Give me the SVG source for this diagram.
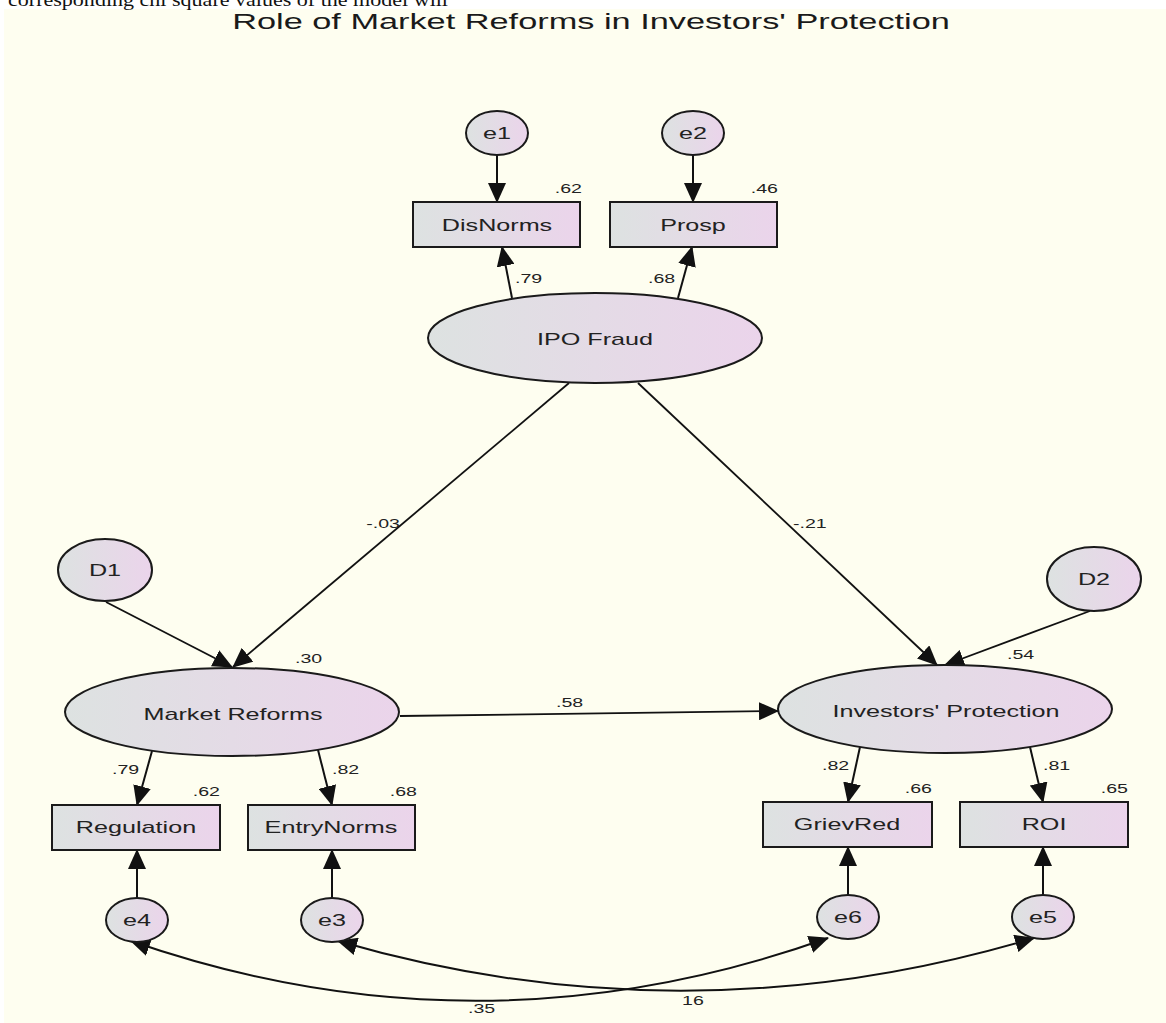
<svg xmlns="http://www.w3.org/2000/svg" width="1166" height="1023" viewBox="0 0 1166 1023">
<defs>
<linearGradient id="g" x1="0" y1="0" x2="1" y2="0">
<stop offset="0" stop-color="#dde2e1"/>
<stop offset="1" stop-color="#ebd4eb"/>
</linearGradient>
<marker id="ah" markerUnits="userSpaceOnUse" viewBox="0 0 20 18" refX="19" refY="9" markerWidth="20" markerHeight="18" orient="auto-start-reverse">
<path d="M0,0 L20,9 L0,18 z" fill="#111"/>
</marker>
<style>
.n{fill:url(#g);stroke:#1a1a1a;stroke-width:2}
.t{font-family:"Liberation Sans",Arial,sans-serif;font-size:17px;fill:#222;text-anchor:middle}
.v{font-family:"Liberation Sans",Arial,sans-serif;font-size:13.5px;fill:#222}
.c{fill:none;stroke:#111;stroke-width:2;marker-end:url(#ah)}
.c2{fill:none;stroke:#111;stroke-width:1.8;marker-end:url(#ah)}
.d{fill:none;stroke:#111;stroke-width:2;marker-start:url(#ah);marker-end:url(#ah)}
</style>
</defs>
<rect x="0" y="0" width="1166" height="1023" fill="#ffffff"/>
<rect x="4" y="9" width="1162" height="1014" fill="#fefef0"/>
<text x="8" y="6" font-family="'Liberation Serif','Times New Roman',serif" font-size="18" fill="#111" textLength="440" lengthAdjust="spacingAndGlyphs">corresponding chi square values of the model will</text>
<text transform="translate(591 29) scale(1.56 1)" font-family="'Liberation Sans',Arial,sans-serif" font-size="22" fill="#1a1a1a" text-anchor="middle">Role of Market Reforms in Investors' Protection</text>

<g id="connectors">
<path class="c" d="M497,155 L497,202"/>
<path class="c" d="M693,155 L693,202"/>
<path class="c" d="M512,298 L502,247"/>
<path class="c" d="M678,298 L692,247"/>
<path class="c2" d="M569,383 L233,667"/>
<path class="c2" d="M638,383 L937,665"/>
<path class="c2" d="M106,602 L232,667"/>
<path class="c2" d="M1090,611 L945,665"/>
<path class="c2" d="M400,716 L778,711"/>
<path class="c" d="M152,751 L137,805"/>
<path class="c" d="M318,750 L332,805"/>
<path class="c" d="M860,747 L848,802"/>
<path class="c" d="M1030,747 L1043,802"/>
<path class="c" d="M137,898 L137,850"/>
<path class="c" d="M332,898 L332,850"/>
<path class="c" d="M848,895 L848,847"/>
<path class="c" d="M1043,895 L1043,847"/>
<path class="d" d="M131,941 Q480,1062 828,938"/>
<path class="d" d="M338,941 Q686,1042 1034,938"/>
</g>

<g id="e1"><ellipse class="n" cx="497" cy="133" rx="31" ry="22"/><text class="t" transform="translate(497 139) scale(1.48 1)">e1</text></g>
<g id="e2"><ellipse class="n" cx="693" cy="133" rx="31" ry="22"/><text class="t" transform="translate(693 139) scale(1.48 1)">e2</text></g>
<g id="DisNorms"><rect class="n" x="413" y="202" width="167" height="45"/><text class="t" transform="translate(497 231) scale(1.48 1)">DisNorms</text></g>
<g id="Prosp"><rect class="n" x="610" y="202" width="167" height="45"/><text class="t" transform="translate(693 231) scale(1.48 1)">Prosp</text></g>
<g id="IPOFraud"><ellipse class="n" cx="595" cy="338" rx="167" ry="45"/><text class="t" transform="translate(595 345) scale(1.48 1)">IPO Fraud</text></g>
<g id="D1"><ellipse class="n" cx="105" cy="570" rx="47" ry="31"/><text class="t" transform="translate(105 576) scale(1.48 1)">D1</text></g>
<g id="D2"><ellipse class="n" cx="1094" cy="579" rx="47" ry="32"/><text class="t" transform="translate(1094 585) scale(1.48 1)">D2</text></g>
<g id="MarketReforms"><ellipse class="n" cx="232" cy="712" rx="167" ry="44"/><text class="t" transform="translate(233 720) scale(1.48 1)">Market Reforms</text></g>
<g id="InvestorsProtection"><ellipse class="n" cx="945" cy="709" rx="167" ry="44"/><text class="t" transform="translate(946 717) scale(1.48 1)">Investors' Protection</text></g>
<g id="Regulation"><rect class="n" x="52" y="805" width="168" height="45"/><text class="t" transform="translate(136 833) scale(1.48 1)">Regulation</text></g>
<g id="EntryNorms"><rect class="n" x="248" y="805" width="167" height="45"/><text class="t" transform="translate(331 833) scale(1.48 1)">EntryNorms</text></g>
<g id="GrievRed"><rect class="n" x="763" y="802" width="169" height="45"/><text class="t" transform="translate(847 830) scale(1.48 1)">GrievRed</text></g>
<g id="ROI"><rect class="n" x="960" y="802" width="168" height="45"/><text class="t" transform="translate(1044 830) scale(1.48 1)">ROI</text></g>
<g id="e4"><ellipse class="n" cx="137" cy="920" rx="31" ry="22"/><text class="t" transform="translate(137 926) scale(1.48 1)">e4</text></g>
<g id="e3"><ellipse class="n" cx="332" cy="920" rx="31" ry="22"/><text class="t" transform="translate(332 926) scale(1.48 1)">e3</text></g>
<g id="e6"><ellipse class="n" cx="848" cy="917" rx="31" ry="22"/><text class="t" transform="translate(848 923) scale(1.48 1)">e6</text></g>
<g id="e5"><ellipse class="n" cx="1043" cy="917" rx="31" ry="22"/><text class="t" transform="translate(1043 923) scale(1.48 1)">e5</text></g>

<g id="labels">
<text class="v" transform="translate(582 193) scale(1.45 1)" text-anchor="end">.62</text>
<text class="v" transform="translate(778 193) scale(1.45 1)" text-anchor="end">.46</text>
<text class="v" transform="translate(515 283) scale(1.45 1)">.79</text>
<text class="v" transform="translate(648 283) scale(1.45 1)">.68</text>
<text class="v" transform="translate(400 528) scale(1.45 1)" text-anchor="end">-.03</text>
<text class="v" transform="translate(793 528) scale(1.45 1)">-.21</text>
<text class="v" transform="translate(295 663) scale(1.45 1)">.30</text>
<text class="v" transform="translate(1007 659) scale(1.45 1)">.54</text>
<text class="v" transform="translate(556 707) scale(1.45 1)">.58</text>
<text class="v" transform="translate(112 774) scale(1.45 1)">.79</text>
<text class="v" transform="translate(332 774) scale(1.45 1)">.82</text>
<text class="v" transform="translate(822 770) scale(1.45 1)">.82</text>
<text class="v" transform="translate(1043 770) scale(1.45 1)">.81</text>
<text class="v" transform="translate(220 796) scale(1.45 1)" text-anchor="end">.62</text>
<text class="v" transform="translate(417 796) scale(1.45 1)" text-anchor="end">.68</text>
<text class="v" transform="translate(932 793) scale(1.45 1)" text-anchor="end">.66</text>
<text class="v" transform="translate(1128 793) scale(1.45 1)" text-anchor="end">.65</text>
<text class="v" transform="translate(468 1013) scale(1.45 1)">.35</text>
<text class="v" transform="translate(682 1005) scale(1.45 1)">16</text>
</g>
</svg>
